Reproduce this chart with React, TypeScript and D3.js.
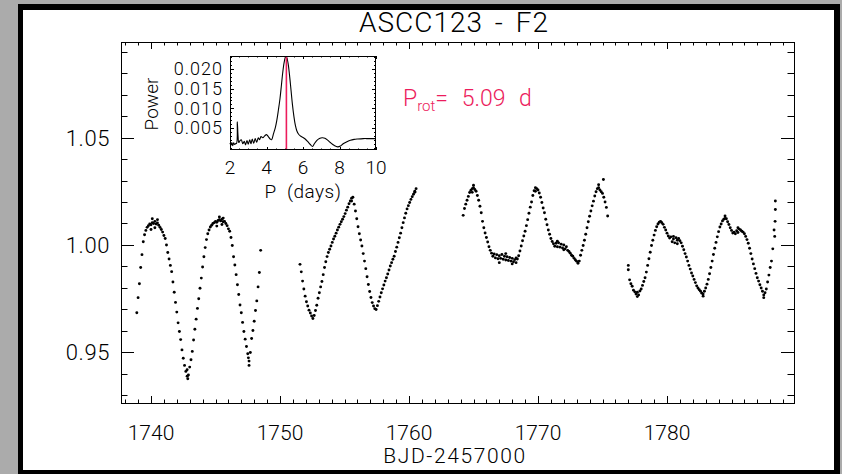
import React from "react";
import * as d3 from "d3";

// ---------- Light curve data (BJD-2457000, relative flux) ----------
const CADENCE = 0.1;
const seg1Start = 1738.9;
const seg1Flux = [
  0.9685, 0.9755, 0.982, 0.9895, 0.9955, 1.0015, 1.0048, 1.0068, 1.0082, 1.009,
  1.0098, 1.0094, 1.0104, 1.01, 1.011, 1.0098, 1.0102, 1.0092, 1.0082, 1.0072,
  1.006, 1.0044, 1.003, 1.0, 0.9965, 0.9935, 0.9905, 0.9876, 0.9828, 0.978,
  0.9733, 0.9688, 0.9638, 0.9598, 0.956, 0.9512, 0.9473, 0.944, 0.9412, 0.939,
  0.9395, 0.9432, 0.9466, 0.9505, 0.9558, 0.9608, 0.9655, 0.9705, 0.975, 0.9799,
  0.9846, 0.9898, 0.9945, 0.9988, 1.0025, 1.0052, 1.007, 1.0084, 1.0092, 1.01,
  1.0104, 1.011, 1.0106, 1.0114, 1.0118, 1.0112, 1.012, 1.0108, 1.011, 1.01,
  1.009, 1.0075, 1.0064, 1.0035, 0.9998, 0.9945, 0.9907, 0.9862, 0.9815, 0.977,
  0.9721, 0.9685, 0.964, 0.9598, 0.9562, 0.9528, 0.9494, 0.946, 0.95, 0.9565,
  0.9602, 0.9645, 0.9695, 0.974, 0.9805, 0.9872, 0.9975,
];
const seg2Start = 1751.55;
const seg2Flux = [
  0.991, 0.9875, 0.9832, 0.9795, 0.9762, 0.9736, 0.9716, 0.9697, 0.9684, 0.967,
  0.9658, 0.9672, 0.9695, 0.972, 0.9752, 0.9778, 0.9805, 0.983, 0.9862, 0.9895,
  0.9922, 0.9946, 0.9965, 0.998, 0.9995, 1.0012, 1.0028, 1.0041, 1.0055, 1.007,
  1.0083, 1.0096, 1.0108, 1.012, 1.0132, 1.0146, 1.0162, 1.0176, 1.0192, 1.0205,
  1.0218, 1.0222, 1.019, 1.0158, 1.0122, 1.0085, 1.0052, 1.0023, 0.9995, 0.996,
  0.9925, 0.989, 0.9852, 0.9816, 0.9784, 0.9756, 0.9732, 0.9716, 0.9704, 0.97,
  0.9718, 0.9738, 0.9758, 0.9778, 0.9796, 0.9814, 0.9832, 0.9848, 0.9865, 0.9884,
  0.9902, 0.9918, 0.9934, 0.9948, 0.997, 0.999, 1.0012, 1.0034, 1.0055, 1.008,
  1.0104, 1.0126, 1.0148, 1.0168, 1.0183, 1.0198, 1.0212, 1.0225, 1.0236, 1.025,
  1.0262,
];
const seg3Start = 1764.2;
const seg3Flux = [
  1.0138, 1.017, 1.019, 1.0208, 1.0226, 1.0244, 1.0255, 1.0262, 1.0266, 1.0258,
  1.025, 1.023, 1.0208, 1.018, 1.015, 1.011, 1.008, 1.0056, 1.0035, 1.0014,
  0.9992, 0.9975, 0.9962, 0.9948, 0.9958, 0.994, 0.9955, 0.9936, 0.995, 0.9938,
  0.9956, 0.9934, 0.9948, 0.993, 0.9945, 0.9928, 0.9942, 0.9925, 0.9938, 0.9922,
  0.9932, 0.9918, 0.9935, 0.995, 0.9972, 0.9995, 1.002, 1.0042, 1.0064, 1.009,
  1.0118, 1.0148, 1.0176, 1.02, 1.023, 1.0252, 1.0266, 1.0262, 1.0256, 1.0242,
  1.0222, 1.0198, 1.0172, 1.015, 1.012, 1.0094, 1.007, 1.005, 1.003, 1.0016,
  1.0006, 0.9994, 1.0008, 0.9992, 1.001, 0.999, 1.0004, 0.9986, 1.0, 0.9982,
  0.9992, 0.9975, 0.997, 0.9962, 0.9952, 0.9948, 0.9938, 0.993, 0.9924, 0.9915,
  0.9925, 0.9952, 0.9975, 0.9998, 1.0022, 1.005, 1.008, 1.0108, 1.0134, 1.0158,
  1.0182, 1.0204, 1.0228, 1.0248, 1.0262, 1.0266, 1.0256, 1.0248, 1.024, 1.0222,
  1.02, 1.0175, 1.0135,
];
const seg4Start = 1777.0;
const seg4Flux = [
  0.9905, 0.9838, 0.982, 0.9808, 0.979, 0.9782, 0.9772, 0.978, 0.9768, 0.9786,
  0.9795, 0.9812, 0.983, 0.9848, 0.9874, 0.9905, 0.9936, 0.9966, 0.9998, 1.0022,
  1.0046, 1.0068, 1.0085, 1.0098, 1.0106, 1.011, 1.0104, 1.0096, 1.0082, 1.007,
  1.0055, 1.0042, 1.0032, 1.0038, 1.0015, 1.0028, 1.001, 1.0034, 1.0022, 1.003,
  1.002, 1.001, 0.9994, 0.9978, 0.996, 0.9944, 0.9925, 0.9905, 0.9888, 0.987,
  0.9856, 0.984, 0.9825, 0.981, 0.98, 0.9792, 0.9785, 0.9776, 0.9772, 0.9785,
  0.98, 0.9818, 0.984, 0.9866, 0.9895, 0.9925, 0.9956, 0.9985, 1.0012, 1.0038,
  1.0062, 1.0084, 1.0098, 1.0112, 1.012, 1.0124, 1.0122, 1.0108, 1.0095, 1.008,
  1.0068, 1.0056, 1.006, 1.0052, 1.0066, 1.0058, 1.0074, 1.007, 1.0064, 1.006,
  1.0052, 1.004, 1.0025, 1.0008, 0.9985, 0.996, 0.9935, 0.9912, 0.989, 0.9868,
  0.9848, 0.9832, 0.9815, 0.98, 0.9785, 0.9768, 0.9778, 0.9795, 0.9828, 0.986,
  0.9895, 0.9925, 0.9982, 1.007, 1.0165,
];
// scattered extra samples
const extraTime = [
  1740.1, 1740.3, 1740.5, 1740.0, 1745.3, 1745.5, 1745.6, 1745.1, 1742.8, 1742.85,
  1747.6, 1747.55, 1755.55, 1760.45, 1764.9, 1765.0, 1767.0, 1767.5, 1768.0, 1768.3,
  1769.8, 1771.5, 1772.0, 1775.07, 1774.7, 1777.0, 1777.7, 1780.5, 1780.8, 1782.8,
  1784.5, 1785.5, 1787.5, 1788.35, 1788.38, 1788.4,
];
const extraFlux = [
  1.0122, 1.008, 1.0118, 1.0072, 1.013, 1.0095, 1.0125, 1.0088, 0.942, 0.9378,
  0.944, 0.9475, 1.0205, 1.0245, 1.0245, 1.0278, 0.9918, 0.996, 0.9912, 0.994,
  1.025, 1.0018, 0.9978, 1.0305, 1.028, 0.9885, 0.976, 1.004, 1.0006, 0.9762,
  1.0135, 1.008, 0.9755, 1.004, 1.011, 1.0205,
];

// ---------- Periodogram (inset) ----------
const periods = [
  2.0, 2.05, 2.1, 2.15, 2.2, 2.25, 2.3, 2.36, 2.4, 2.44, 2.48, 2.55, 2.62, 2.7,
  2.78, 2.85, 2.93, 3.0, 3.08, 3.15, 3.22, 3.3, 3.38, 3.46, 3.55, 3.62, 3.7, 3.8,
  3.9, 4.0, 4.1, 4.2, 4.28, 4.38, 4.48, 4.56, 4.65, 4.74, 4.82, 4.9, 4.98, 5.05,
  5.1, 5.18, 5.26, 5.34, 5.42, 5.5, 5.58, 5.66, 5.76, 5.88, 6.0, 6.12, 6.25, 6.4,
  6.52, 6.62, 6.75, 6.9, 7.05, 7.2, 7.35, 7.5, 7.7, 7.9, 8.05, 8.2, 8.4, 8.6, 8.8,
  9.0, 9.3, 9.6, 10.0,
];
const power = [
  0.0012, 0.0006, 0.0013, 0.0005, 0.0012, 0.0008, 0.001, 0.0011, 0.0066, 0.003,
  0.0013, 0.0018, 0.002, 0.001, 0.0016, 0.0007, 0.0018, 0.0009, 0.002, 0.001,
  0.0022, 0.0011, 0.0023, 0.0014, 0.0025, 0.002, 0.0028, 0.0025, 0.003, 0.0033,
  0.0028, 0.0022, 0.002, 0.0035, 0.005, 0.0068, 0.0095, 0.0125, 0.016, 0.0195,
  0.022, 0.0231, 0.023, 0.0215, 0.0185, 0.0148, 0.011, 0.008, 0.0057, 0.0043,
  0.0034, 0.0029, 0.0026, 0.0022, 0.0016, 0.0008, 0.0003, 0.001, 0.0018, 0.0023,
  0.0025, 0.0024, 0.0019, 0.0013, 0.0006, 0.0002, 0.0004, 0.001, 0.0015, 0.0019,
  0.0021, 0.0022, 0.0023, 0.0023, 0.0023,
];
const P_ROT = 5.09;

// ---------- Ticks / labels ----------
const xTickValues = [1740, 1750, 1760, 1770, 1780];
const yTickValues = [0.95, 1.0, 1.05];
const yTickLabels = ["0.95", "1.00", "1.05"];
const insetXTicks = [2, 4, 6, 8, 10];
const insetYTicks = [0.005, 0.01, 0.015, 0.02];
const insetYLabels = ["0.005", "0.010", "0.015", "0.020"];
const TITLE = "ASCC123 - F2";
const X_LABEL = "BJD-2457000";

const FONT = "Roboto, 'Liberation Sans', Arial, sans-serif";
const FW = 300;
const RED = "#ec1c5c";

export default function App() {
  const W = 842, H = 474;
  const plot = { l: 121, r: 794, t: 42, b: 403 };
  const x = d3.scaleLinear().domain([1737.674, 1789.845]).range([plot.l, plot.r]);
  const y = d3.scaleLinear().domain([0.92651, 1.09442]).range([plot.b, plot.t]);

  const segs = [
    { start: seg1Start, flux: seg1Flux },
    { start: seg2Start, flux: seg2Flux },
    { start: seg3Start, flux: seg3Flux },
    { start: seg4Start, flux: seg4Flux },
  ];
  const pts: { t: number; f: number }[] = [];
  segs.forEach((s) => s.flux.forEach((f, i) => pts.push({ t: s.start + i * CADENCE, f })));
  extraTime.forEach((t, i) => pts.push({ t, f: extraFlux[i] }));

  const xMinor = d3.range(1738, 1790, 1);
  const yMinor = d3.range(0.93, 1.0941, 0.01);

  const xTickMaj = 7, xTickMin = 3.5, yTickMaj = 13, yTickMin = 6.5;

  // inset
  const ins = { l: 230, r: 376, t: 56, b: 150 };
  const ix = d3.scaleLinear().domain([2, 10]).range([ins.l, ins.r]);
  const iy = d3.scaleLinear().domain([-0.0006, 0.0233]).range([ins.b, ins.t]);
  const line = d3
    .line<number>()
    .x((_, i) => ix(periods[i]))
    .y((d) => iy(d))
    .curve(d3.curveCatmullRom.alpha(0.5));
  const iyMinor = d3.range(0.0, 0.0231, 0.001);
  const ixMinor = d3.range(2, 10.01, 0.5);

  const px = (v: number) => Math.round(v) + 0.5;

  return (
    <div style={{ position: "fixed", left: 0, top: 0, width: W, height: H }}>
      <svg width={W} height={H} style={{ display: "block" }} fontFamily={FONT} fontWeight={FW}>
        <rect x={0} y={0} width={W} height={H} fill="#ababab" />
        <rect x={18} y={4} width={822} height={480} fill="#000" />
        <rect x={23} y={10} width={811} height={460} fill="#fff" />

        {/* title */}
        <text x={454} y={32} fontSize={28} textAnchor="middle" fill="#000" wordSpacing={4} letterSpacing={1}>
          {TITLE}
        </text>

        {/* main frame */}
        <rect
          x={plot.l + 0.5}
          y={plot.t + 0.5}
          width={plot.r - plot.l}
          height={plot.b - plot.t}
          fill="none"
          stroke="#000"
          strokeWidth={1}
        />
        {/* x ticks */}
        {xMinor.map((v) => {
          const major = xTickValues.includes(v);
          const len = major ? xTickMaj : xTickMin;
          return (
            <g key={"xm" + v}>
              <line x1={px(x(v))} x2={px(x(v))} y1={plot.b} y2={plot.b - len} stroke="#000" />
              <line x1={px(x(v))} x2={px(x(v))} y1={plot.t} y2={plot.t + len} stroke="#000" />
            </g>
          );
        })}
        {xTickValues.map((v) => (
          <text key={"xl" + v} x={x(v)} y={440} fontSize={21} textAnchor="middle">
            {v}
          </text>
        ))}
        <text x={455} y={463} fontSize={21} textAnchor="middle" letterSpacing={1.6}>
          {X_LABEL}
        </text>
        {/* y ticks */}
        {yMinor.map((v) => {
          const major = yTickValues.some((m) => Math.abs(m - v) < 1e-6);
          const len = major ? yTickMaj : yTickMin;
          return (
            <g key={"ym" + v.toFixed(3)}>
              <line x1={plot.l} x2={plot.l + len} y1={px(y(v))} y2={px(y(v))} stroke="#000" />
              <line x1={plot.r} x2={plot.r - len} y1={px(y(v))} y2={px(y(v))} stroke="#000" />
            </g>
          );
        })}
        {yTickValues.map((v, i) => (
          <text key={"yl" + v} x={110} y={y(v) + 8} fontSize={22} textAnchor="end" letterSpacing={0.6}>
            {yTickLabels[i]}
          </text>
        ))}

        {/* data */}
        {pts.map((p, i) => (
          <circle key={i} cx={x(p.t)} cy={y(p.f)} r={1.45} fill="#000" />
        ))}

        {/* Prot label */}
        <text x={403} y={106} fontSize={23} fill={RED} wordSpacing={8}>
          P
          <tspan fontSize={15} dy={5}>rot</tspan>
          <tspan dy={-5}>= 5.09 d</tspan>
        </text>

        {/* inset */}
        <rect x={ins.l} y={ins.t} width={ins.r - ins.l} height={ins.b - ins.t} fill="#fff" />
        {iyMinor.map((v) => {
          const major = insetYTicks.some((m) => Math.abs(m - v) < 1e-7);
          const len = major ? 4 : 2;
          return (
            <g key={"iym" + v.toFixed(4)}>
              <line x1={ins.l} x2={ins.l + len} y1={px(iy(v))} y2={px(iy(v))} stroke="#000" />
              <line x1={ins.r} x2={ins.r - len} y1={px(iy(v))} y2={px(iy(v))} stroke="#000" />
            </g>
          );
        })}
        {ixMinor.map((v) => {
          const major = insetXTicks.some((m) => Math.abs(m - v) < 1e-7);
          const len = major ? 3 : 1.5;
          return (
            <g key={"ixm" + v}>
              <line x1={px(ix(v))} x2={px(ix(v))} y1={ins.b} y2={ins.b - len} stroke="#000" />
              <line x1={px(ix(v))} x2={px(ix(v))} y1={ins.t} y2={ins.t + len} stroke="#000" />
            </g>
          );
        })}
        <path d={line(power) || ""} fill="none" stroke="#000" strokeWidth={1.1} />
        <line x1={ix(P_ROT)} x2={ix(P_ROT)} y1={ins.b} y2={ins.t} stroke={RED} strokeWidth={1.6} />
        <rect
          x={ins.l + 0.5}
          y={ins.t + 0.5}
          width={ins.r - ins.l - 1}
          height={ins.b - ins.t - 1}
          fill="none"
          stroke="#000"
        />
        {insetYTicks.map((v, i) => (
          <text key={"iyl" + v} x={223} y={iy(v) + 6.5} fontSize={18} textAnchor="end" letterSpacing={1}>
            {insetYLabels[i]}
          </text>
        ))}
        {insetXTicks.map((v) => (
          <text key={"ixl" + v} x={ix(v)} y={174} fontSize={19} textAnchor="middle">
            {v}
          </text>
        ))}
        <text x={303} y={197.5} fontSize={19} textAnchor="middle" wordSpacing={5} letterSpacing={0.5}>
          P (days)
        </text>
        <text transform="translate(158,104) rotate(-90)" fontSize={19} textAnchor="middle">
          Power
        </text>
      </svg>
    </div>
  );
}
